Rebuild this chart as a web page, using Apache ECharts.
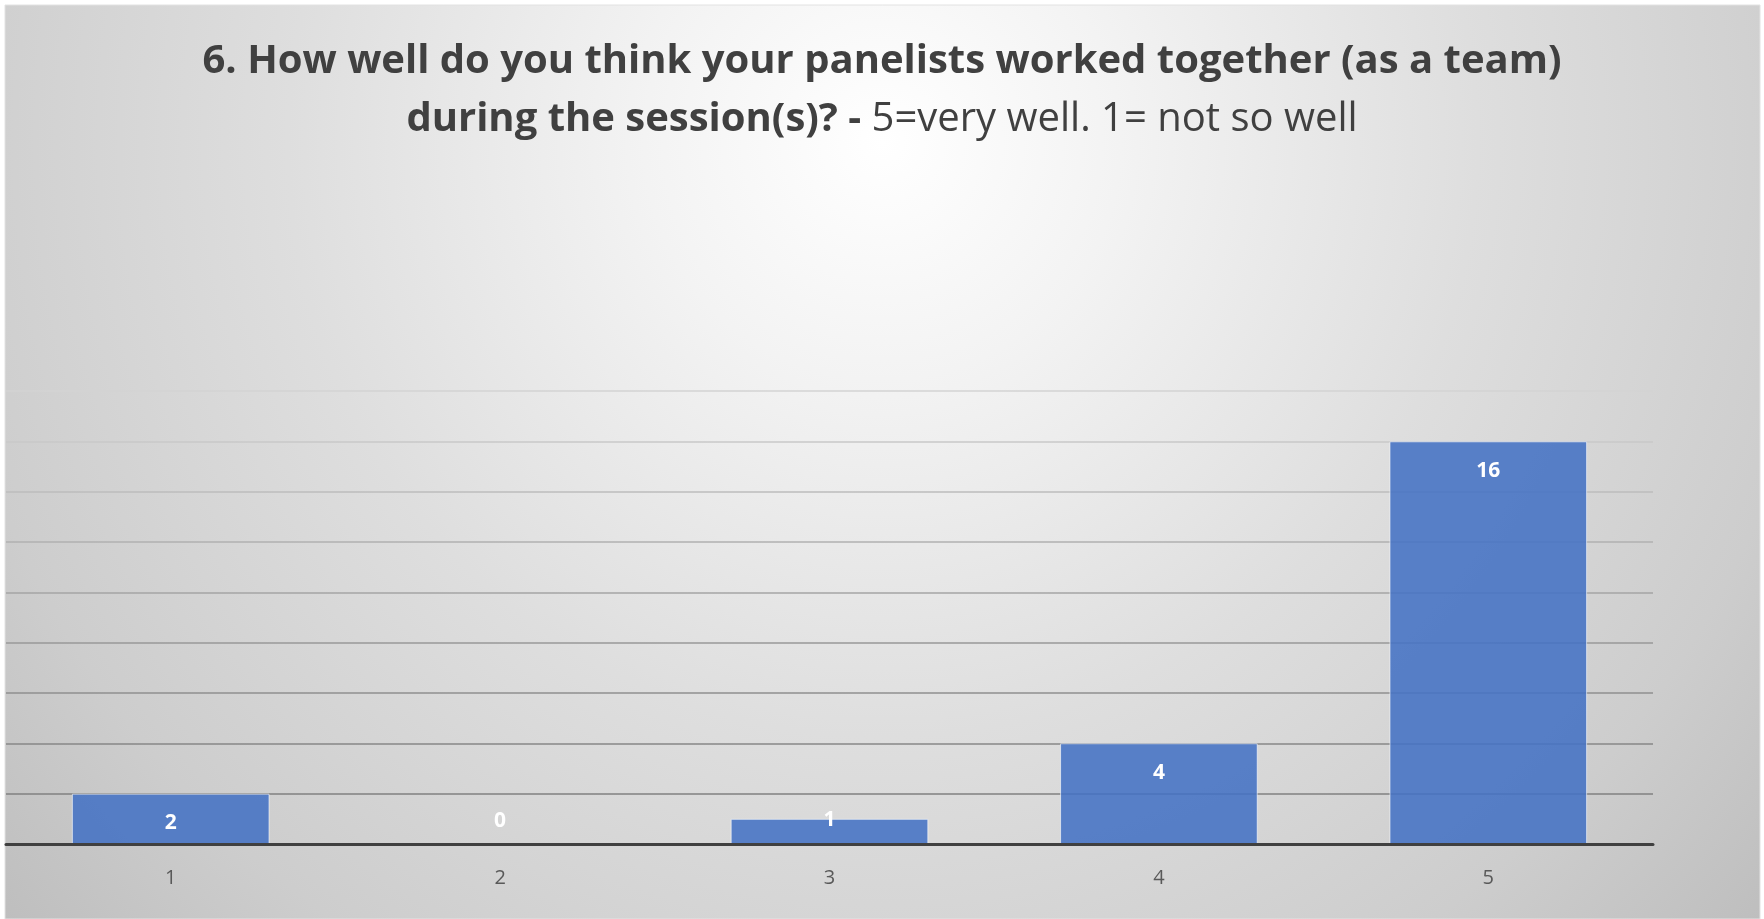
<!DOCTYPE html>
<html>
<head>
<meta charset="utf-8">
<title>Panelist teamwork ratings</title>
<script src="https://cdn.jsdelivr.net/npm/echarts@6/dist/echarts.min.js"></script>
<style>
  html, body { margin: 0; padding: 0; background: #ffffff; }
  #chart { width: 1764px; height: 919px; }
</style>
</head>
<body>
<div id="chart"></div>
<script>
// Rating scale (1 = not so well, 5 = very well) and response counts
const ratings = ['1', '2', '3', '4', '5'];
const counts = [2, 0, 1, 4, 16];

// Value axis range
const yMin = 0;
const yMax = 18;
const yStep = 2;

const titleLine1 = '6. How well do you think your panelists worked together (as a team)';
const titleLine2Bold = 'during the session(s)? - ';
const titleLine2Plain = '5=very well. 1= not so well';

const FONT = '"Open Sans", "Noto Sans", sans-serif';

const chart = echarts.init(document.getElementById('chart'), null, { renderer: 'canvas' });

// Short bars cannot hold their label inside the top, so it sits on the baseline instead
const barData = counts.map(v => ({
  value: v,
  label: v >= 2
    ? { position: 'insideTop', distance: 19 }
    : { position: 'insideBottom', distance: 13 }
}));

// Gridlines fade from darker near the baseline to lighter at the top
const gridColors = ['#7f7f7f', '#808080', '#878787', '#8f8f8f', '#999999',
                    '#a4a4a4', '#b0b0b0', '#bdbdbd', '#c9c9c9', '#d3d3d3'];

chart.setOption({
  backgroundColor: '#ffffff',
  animation: false,
  graphic: [{
    type: 'rect',
    z: -10,
    silent: true,
    shape: { x: 5, y: 5, width: 1755, height: 914 },
    style: {
      fill: {
        type: 'radial',
        x: 0.5, y: 0.15, r: 1.3,
        colorStops: [
          { offset: 0, color: '#ffffff' },
          { offset: 0.2, color: '#f3f3f3' },
          { offset: 0.5, color: '#dedede' },
          { offset: 0.8, color: '#cdcdcd' },
          { offset: 1, color: '#bdbdbd' }
        ]
      },
      stroke: '#e2e2e2',
      lineWidth: 1
    }
  }],
  title: {
    left: 'center',
    top: 28,
    text: '{b|' + titleLine1 + '}\n{b|' + titleLine2Bold + '}{n|' + titleLine2Plain + '}',
    textStyle: {
      rich: {
        b: { fontFamily: FONT, fontSize: 40, fontWeight: 'bold', color: '#404040', lineHeight: 58 },
        n: { fontFamily: FONT, fontSize: 40, fontWeight: 'normal', color: '#404040', lineHeight: 58 }
      }
    }
  },
  grid: {
    left: 6,
    right: 111,
    top: 391,
    bottom: 75
  },
  xAxis: {
    type: 'category',
    data: ratings,
    axisLine: { show: true, lineStyle: { color: '#404040', width: 3 } },
    axisTick: { show: false },
    axisLabel: {
      color: '#595959',
      fontFamily: FONT,
      fontSize: 20,
      margin: 24
    },
    splitLine: { show: false },
    z: 5
  },
  yAxis: {
    type: 'value',
    min: yMin,
    max: yMax,
    interval: yStep,
    axisLine: { show: false },
    axisTick: { show: false },
    axisLabel: { show: false },
    splitLine: { show: true, lineStyle: { color: gridColors, width: 1.5 } }
  },
  series: [{
    type: 'bar',
    data: barData,
    barWidth: '60%',
    itemStyle: {
      color: 'rgba(68, 114, 196, 0.88)',
      borderColor: 'rgba(255, 255, 255, 0.6)',
      borderWidth: 1
    },
    label: {
      show: true,
      color: '#ffffff',
      fontFamily: FONT,
      fontSize: 21,
      fontWeight: 'bold'
    }
  }]
});
</script>
</body>
</html>
